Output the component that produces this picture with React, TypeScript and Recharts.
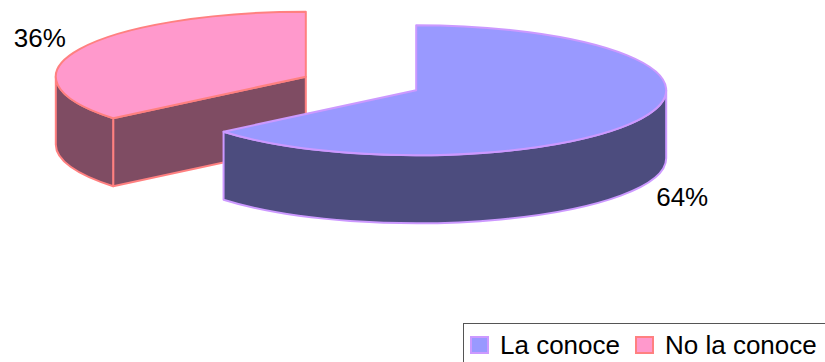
import React from "react";
import { PieChart, Pie, Cell, Legend } from "recharts";

// Survey answers (percent of respondents)
const NAMES = ["No la conoce", "La conoce"];
const VALUES = [36, 64];

const TOP_COLORS = ["#FF99CC", "#9999FF"];
const SIDE_COLORS = ["#7F4C63", "#4C4C7E"];
const EDGE_COLORS = ["#FF8080", "#CC99FF"];

const data = NAMES.map((name, i) => ({ name, value: VALUES[i] }));

const FONT = '"Liberation Sans", Arial, sans-serif';
const RAD = Math.PI / 180;
const TILT = 0.26; // vertical squash of the pie disc
const DEPTH = 68; // thickness of the slab
const EXPLODE = 61; // how far each slice is pulled out
const LABEL_R = 1.176;
const LABEL_TILT = 0.31;

const colorIndex = (name: string) => Math.max(0, NAMES.indexOf(name));

const rim = (cx: number, cy: number, r: number, a: number): [number, number] => [
  cx + r * Math.cos(a * RAD),
  cy - r * TILT * Math.sin(a * RAD),
];

const arcTo = (r: number, a1: number, a2: number, sweep: number, p: [number, number]) =>
  `A ${r} ${r * TILT} 0 ${Math.abs(a2 - a1) > 180 ? 1 : 0} ${sweep} ${p[0]} ${p[1]}`;

// Draws one slice as an extruded elliptical wedge plus its percent label
const renderSlab = (props: any) => {
  const { cx, cy, outerRadius: r, startAngle, endAngle, midAngle, percent } = props;
  const name = props.payload?.name ?? props.name;
  const ci = colorIndex(name);
  const top = TOP_COLORS[ci];
  const side = SIDE_COLORS[ci];
  const edge = EDGE_COLORS[ci];

  const s = Math.min(startAngle, endAngle);
  const e = Math.max(startAngle, endAngle);
  const ox = cx + EXPLODE * Math.cos(midAngle * RAD);
  const oy = cy - EXPLODE * TILT * Math.sin(midAngle * RAD);

  const walls: string[] = [];

  // radial cut faces that turn towards the viewer
  const faceAt = (a: number) => {
    const p = rim(ox, oy, r, a);
    walls.push(
      `M ${ox} ${oy} L ${p[0]} ${p[1]} L ${p[0]} ${p[1] + DEPTH} L ${ox} ${oy + DEPTH} Z`
    );
  };
  if (Math.cos(e * RAD) < -1e-6) faceAt(e);
  if (Math.cos(s * RAD) > 1e-6) faceAt(s);

  // outer curved wall on the front half of the disc
  [-360, 0, 360].forEach((k) => {
    const lo = Math.max(s, 180 + k);
    const hi = Math.min(e, 360 + k);
    if (hi - lo > 0.01) {
      const p1 = rim(ox, oy, r, lo);
      const p2 = rim(ox, oy, r, hi);
      walls.push(
        `M ${p1[0]} ${p1[1]} ${arcTo(r, lo, hi, 0, p2)} L ${p2[0]} ${p2[1] + DEPTH} ` +
          `${arcTo(r, lo, hi, 1, [p1[0], p1[1] + DEPTH])} Z`
      );
    }
  });

  const ps = rim(ox, oy, r, s);
  const pe = rim(ox, oy, r, e);
  const topPath = `M ${ox} ${oy} L ${ps[0]} ${ps[1]} ${arcTo(r, s, e, 0, pe)} Z`;

  const sin = Math.sin(midAngle * RAD);
  const lx = ox + r * LABEL_R * Math.cos(midAngle * RAD);
  const ly = oy - r * LABEL_R * LABEL_TILT * sin + (sin < 0 ? DEPTH : 0);

  return (
    <g>
      {walls.map((d, i) => (
        <path key={i} d={d} fill={side} stroke={edge} strokeWidth={2} strokeLinejoin="round" />
      ))}
      <path d={topPath} fill={top} stroke={edge} strokeWidth={2} strokeLinejoin="round" />
      <text
        x={lx}
        y={ly}
        textAnchor="middle"
        dominantBaseline="central"
        fontFamily={FONT}
        fontSize={26}
        fill="#000"
      >
        {`${Math.round(percent * 100)}%`}
      </text>
    </g>
  );
};

const renderLegend = ({ payload }: any) => (
  <div
    style={{
      display: "flex",
      alignItems: "center",
      height: "100%",
      paddingLeft: 6,
      fontFamily: FONT,
      fontSize: 26,
      color: "#000",
      whiteSpace: "nowrap",
    }}
  >
    {(payload || []).map((item: any) => {
      const ci = colorIndex(item.value);
      return (
        <div key={item.value} style={{ display: "flex", alignItems: "center", marginRight: 15 }}>
          <span
            style={{
              display: "inline-block",
              width: 15,
              height: 14,
              background: TOP_COLORS[ci],
              border: `2px solid ${EDGE_COLORS[ci]}`,
              marginRight: 11,
            }}
          />
          <span>{item.value}</span>
        </div>
      );
    })}
  </div>
);

export default function App() {
  return (
    <div style={{ position: "absolute", left: 0, top: 0, width: 825, height: 362, background: "#fff", overflow: "hidden" }}>
      <PieChart width={825} height={362} margin={{ top: 0, right: 0, bottom: 0, left: 0 }}>
        <Pie
          data={data}
          dataKey="value"
          nameKey="name"
          cx={361}
          cy={83.5}
          outerRadius={250}
          startAngle={90}
          endAngle={450}
          fillOpacity={0}
          stroke="none"
          labelLine={false}
          label={renderSlab}
          isAnimationActive={false}
        >
          {data.map((entry, i) => (
            <Cell key={`cell-${i}`} fill={TOP_COLORS[colorIndex(entry.name)]} />
          ))}
        </Pie>
        <Legend
          itemSorter="value"
          content={renderLegend}
          wrapperStyle={{
            position: "absolute",
            left: 463,
            top: 323,
            width: 400,
            height: 44,
            border: "1.5px solid #555",
            background: "#fff",
            boxSizing: "border-box",
          }}
        />
      </PieChart>
    </div>
  );
}
